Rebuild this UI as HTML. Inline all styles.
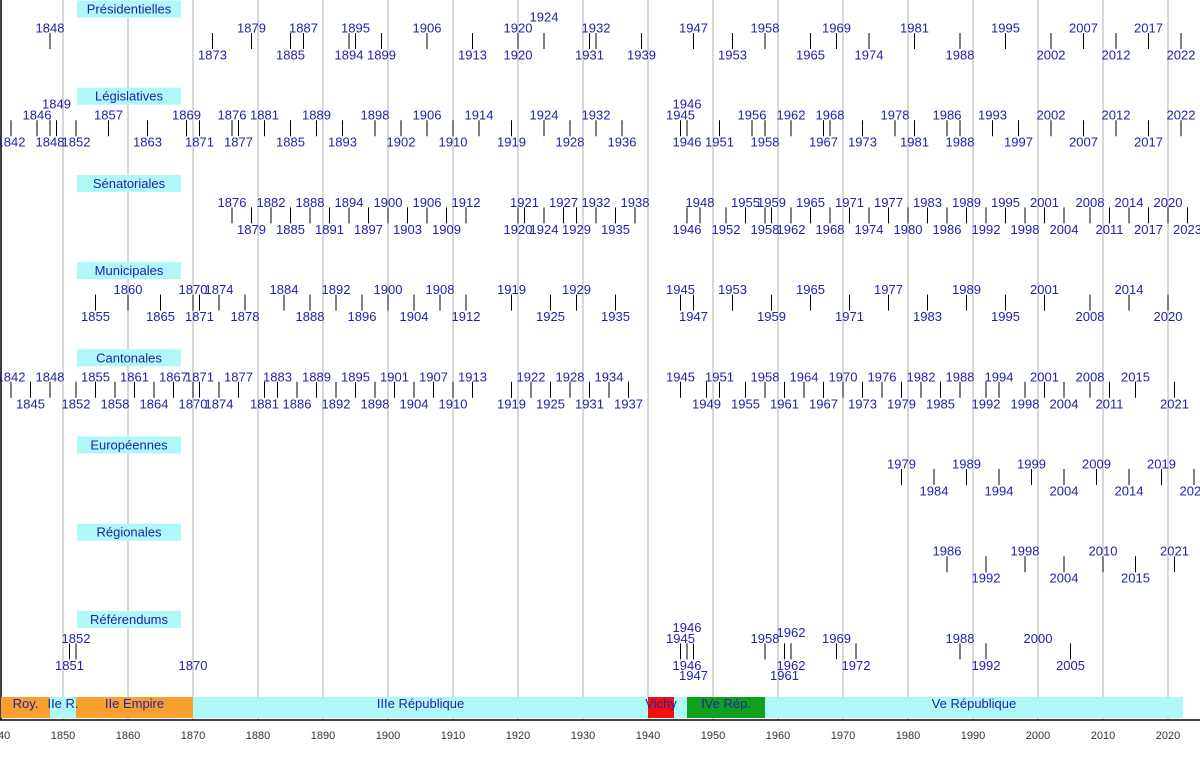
<!DOCTYPE html>
<html><head><meta charset="utf-8">
<style>
html,body{margin:0;padding:0;background:#fff;}
svg{display:block;font-family:"Liberation Sans",sans-serif;}
</style></head>
<body>
<svg id="chart" width="1200" height="770" viewBox="0 0 1200 770" xmlns="http://www.w3.org/2000/svg"></svg>
<script>
// ---- data ----
const categories = ["Présidentielles","Législatives","Sénatoriales","Municipales","Cantonales","Européennes","Régionales","Référendums"];
const presUp = [1848,1879,1887,1895,1906,1920,1932,1947,1958,1969,1981,1995,2007,2017];
const presUp2 = [1924];
const presDown = [1873,1885,1894,1899,1913,1920,1931,1939,1953,1965,1974,1988,2002,2012,2022];
const legUp2 = [1849,1946];
const legUp = [1846,1857,1869,1876,1881,1889,1898,1906,1914,1924,1932,1945,1956,1962,1968,1978,1986,1993,2002,2012,2022];
const legDown = [1842,1848,1852,1863,1871,1877,1885,1893,1902,1910,1919,1928,1936,1946,1951,1958,1967,1973,1981,1988,1997,2007,2017];
const senUp = [1876,1882,1888,1894,1900,1906,1912,1921,1927,1932,1938,1948,1955,1959,1965,1971,1977,1983,1989,1995,2001,2008,2014,2020];
const senDown = [1879,1885,1891,1897,1903,1909,1920,1924,1929,1935,1946,1952,1958,1962,1968,1974,1980,1986,1992,1998,2004,2011,2017,2023];
const munUp = [1860,1870,1874,1884,1892,1900,1908,1919,1929,1945,1953,1965,1977,1989,2001,2014];
const munDown = [1855,1865,1871,1878,1888,1896,1904,1912,1925,1935,1947,1959,1971,1983,1995,2008,2020];
const cantUp = [1842,1848,1855,1861,1867,1871,1877,1883,1889,1895,1901,1907,1913,1922,1928,1934,1945,1951,1958,1964,1970,1976,1982,1988,1994,2001,2008,2015];
const cantDown = [1845,1852,1858,1864,1870,1874,1881,1886,1892,1898,1904,1910,1919,1925,1931,1937,1949,1955,1961,1967,1973,1979,1985,1992,1998,2004,2011,2021];
const eurUp = [1979,1989,1999,2009,2019];
const eurDown = [1984,1994,2004,2014,2024];
const regUp = [1986,1998,2010,2021];
const regDown = [1992,2004,2015];
const refUp = [1852,1945,1958,1969,1988,2000];
const refUp2 = [1946];
const refUpMid = [1962];
const refDown = [1851,1870,1946,1962,1972,1992,2005];
const refDown2 = [1947,1961];
const refNoTick = [1870,2000];
const eraNames = ["Roy.","IIe R.","IIe Empire","IIIe République","Vichy","","IVe Rép.","Ve République"];
const eraStart = [1840,1848,1852,1870,1940,1944,1946,1958];
const eraEnd   = [1848,1852,1870,1940,1944,1946,1958,2022.3];
const eraColor = ["#f7a030","#b0f8f8","#f7a030","#b0f8f8","#f01010","#b0f8f8","#10a020","#b0f8f8"];
const axisTicks = [1840,1850,1860,1870,1880,1890,1900,1910,1920,1930,1940,1950,1960,1970,1980,1990,2000,2010,2020];

// ---- scales ----
const X = y => (y - 1840) * 6.5 - 2;
const rowTop = i => 33 + 87.2 * i;
const levelOffset = {up2:-16, upMid:-11, up:-5, down:22, down2:32};

const svg = document.getElementById('chart');
const NS = "http://www.w3.org/2000/svg";
function mk(tag, attrs, parent){
  const e = document.createElementNS(NS, tag);
  for (const k in attrs) e.setAttribute(k, attrs[k]);
  (parent||svg).appendChild(e);
  return e;
}

// grid
axisTicks.forEach(t => {
  if (t === 1840) return;
  const g = mk('line', {x1:X(t), x2:X(t), y1:0, y2:720, stroke:'#b0b0b0', 'stroke-width':1});
  
  
});
const la = mk('line', {x1:1, x2:1, y1:0, y2:720, stroke:'#000', 'stroke-width':1.5});



// row headers
categories.forEach((c, i) => {
  const g = mk('g', {});
  
  
  const cy = rowTop(i) - 24;
  mk('rect', {x:77, y:cy - 8.5, width:104, height:17, fill:'#b0f8f8'}, g);
  const t = mk('text', {x:129, y:cy + 4.5, 'text-anchor':'middle', 'font-size':13, fill:'#2222aa'}, g);
  t.textContent = c;
});

// marks
function drawSet(row, years, level, noTick){
  years.forEach(y => {
    const g = mk('g', {});
    
    
    const top = rowTop(row);
    if (!(noTick && noTick.includes(y))) {
      mk('line', {x1:X(y), x2:X(y), y1:top, y2:top+16, stroke:'#000', 'stroke-width':1}, g);
    }
    const t = mk('text', {x:X(y), y:top + levelOffset[level] + 4.5, 'text-anchor':'middle', 'font-size':13, fill:'#2222aa'}, g);
    t.textContent = y;
  });
}
drawSet(0, presUp, 'up'); drawSet(0, presUp2, 'up2'); drawSet(0, presDown, 'down');
drawSet(1, legUp, 'up'); drawSet(1, legUp2, 'up2'); drawSet(1, legDown, 'down');
drawSet(2, senUp, 'up'); drawSet(2, senDown, 'down');
drawSet(3, munUp, 'up'); drawSet(3, munDown, 'down');
drawSet(4, cantUp, 'up'); drawSet(4, cantDown, 'down');
drawSet(5, eurUp, 'up'); drawSet(5, eurDown, 'down');
drawSet(6, regUp, 'up'); drawSet(6, regDown, 'down');
drawSet(7, refUp, 'up', refNoTick); drawSet(7, refUp2, 'up2'); drawSet(7, refUpMid, 'upMid');
drawSet(7, refDown, 'down', refNoTick); drawSet(7, refDown2, 'down2');

// eras
eraNames.forEach((n, i) => {
  const g = mk('g', {});
  
  
  const x0 = Math.max(X(eraStart[i]), 1), x1 = X(eraEnd[i]);
  mk('rect', {x:x0, y:697, width:x1 - x0, height:21, fill:eraColor[i]}, g);
});
eraNames.forEach((n, i) => {
  if (!n) return;
  const x0 = Math.max(X(eraStart[i]), 1), x1 = X(eraEnd[i]);
  const t = mk('text', {x:(x0 + x1) / 2, y:708, 'text-anchor':'middle', 'font-size':13, fill:'#2222aa'});
  
  
  t.textContent = n;
});

// x axis
const ax = mk('line', {x1:0, x2:1200, y1:720, y2:720, stroke:'#000', 'stroke-width':1.5});


axisTicks.forEach(t => {
  const l = mk('text', {x:X(t), y:739, 'text-anchor':'middle', 'font-size':11, fill:'#333'});
  
  
  l.textContent = t;
});
</script>
</body></html>
